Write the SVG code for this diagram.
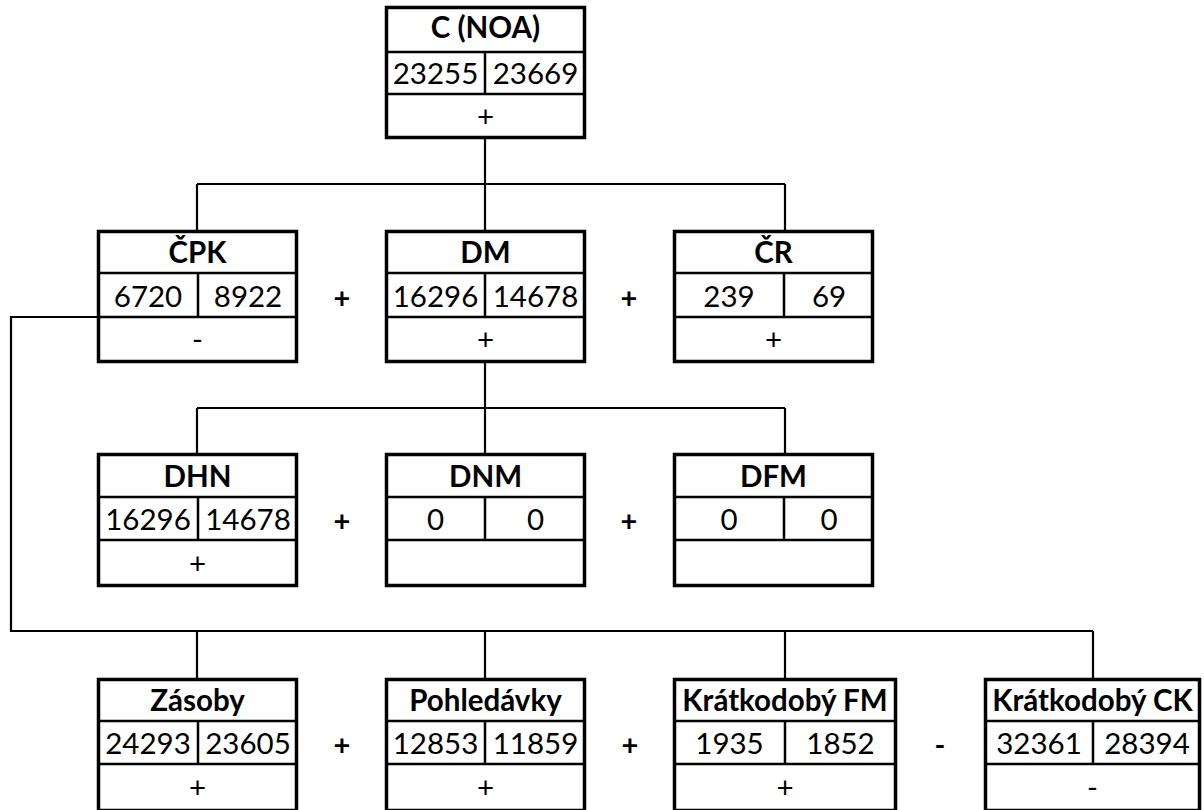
<svg xmlns="http://www.w3.org/2000/svg" width="1204" height="810" viewBox="0 0 1204 810">
  <style>
    .box { fill: #ffffff; stroke: #000000; stroke-width: 3.5; }
    .div { stroke: #000000; stroke-width: 2.5; fill: none; }
    .wire { stroke: #000000; stroke-width: 2.2; fill: none; }
    .hd { font-family: Lato, "Open Sans", sans-serif; font-weight: bold; font-size: 29.5px; text-anchor: middle; fill: #000; }
    .val { font-family: Lato, "Open Sans", sans-serif; font-size: 29.5px; text-anchor: middle; fill: #000; }
    .op { font-family: Lato, "Open Sans", sans-serif; font-weight: bold; font-size: 29px; text-anchor: middle; fill: #000; }
  </style>

  <!-- connectors -->
  <g id="connectors">
    <path class="wire" d="M485 139 V184 M197 184 H785 M197 184 V230 M485 184 V230 M785 184 V230"/>
    <path class="wire" d="M485 363 V408 M197 408 H785 M197 408 V453 M485 408 V453 M785 408 V453"/>
    <path class="wire" d="M97 317 H11 V631 H1093 M197 631 V678 M485 631 V678 M785 631 V678 M1093 631 V678"/>
  </g>

  <!-- level 0 -->
  <g id="node-c-noa">
    <rect class="box" x="386.5" y="7.5" width="198" height="130"/>
    <path class="div" d="M386 52 H585 M386 94 H585 M485 52 V94"/>
    <text class="hd" x="485.5" y="38">C (NOA)</text>
    <text class="val" x="435.5" y="84">23255</text>
    <text class="val" x="535.5" y="84">23669</text>
    <text class="val" x="485.5" y="127">+</text>
  </g>

  <!-- level 1 -->
  <g id="node-cpk">
    <rect class="box" x="98.5" y="231.5" width="198" height="130"/>
    <path class="div" d="M98 273 H297 M98 317 H297 M198 273 V317"/>
    <text class="hd" x="197.5" y="263">ČPK</text>
    <text class="val" x="148" y="307">6720</text>
    <text class="val" x="248" y="307">8922</text>
    <text class="val" x="197.5" y="350">-</text>
  </g>
  <g id="node-dm">
    <rect class="box" x="386.5" y="231.5" width="198" height="130"/>
    <path class="div" d="M386 273 H585 M386 317 H585 M485 273 V317"/>
    <text class="hd" x="485.5" y="263">DM</text>
    <text class="val" x="435.5" y="307">16296</text>
    <text class="val" x="535.5" y="307">14678</text>
    <text class="val" x="485.5" y="350">+</text>
  </g>
  <g id="node-cr">
    <rect class="box" x="674.5" y="231.5" width="198" height="130"/>
    <path class="div" d="M674 273 H873 M674 317 H873 M784 273 V317"/>
    <text class="hd" x="773.5" y="263">ČR</text>
    <text class="val" x="729" y="307">239</text>
    <text class="val" x="829" y="307">69</text>
    <text class="val" x="773.5" y="350">+</text>
  </g>
  <g id="ops-level1">
    <text class="op" x="342" y="308">+</text>
    <text class="op" x="629" y="308">+</text>
  </g>

  <!-- level 2 -->
  <g id="node-dhn">
    <rect class="box" x="98.5" y="454.5" width="198" height="131"/>
    <path class="div" d="M98 497 H297 M98 540 H297 M198 497 V540"/>
    <text class="hd" x="197.5" y="487">DHN</text>
    <text class="val" x="148" y="530">16296</text>
    <text class="val" x="248" y="530">14678</text>
    <text class="val" x="197.5" y="574">+</text>
  </g>
  <g id="node-dnm">
    <rect class="box" x="386.5" y="454.5" width="198" height="131"/>
    <path class="div" d="M386 497 H585 M386 540 H585 M485 497 V540"/>
    <text class="hd" x="485.5" y="487">DNM</text>
    <text class="val" x="435.5" y="530">0</text>
    <text class="val" x="535.5" y="530">0</text>
  </g>
  <g id="node-dfm">
    <rect class="box" x="674.5" y="454.5" width="198" height="131"/>
    <path class="div" d="M674 497 H873 M674 540 H873 M784 497 V540"/>
    <text class="hd" x="773.5" y="487">DFM</text>
    <text class="val" x="729" y="530">0</text>
    <text class="val" x="829" y="530">0</text>
  </g>
  <g id="ops-level2">
    <text class="op" x="342" y="531">+</text>
    <text class="op" x="629" y="531">+</text>
  </g>

  <!-- level 3 -->
  <g id="node-zasoby">
    <rect class="box" x="98.5" y="679.5" width="198" height="131"/>
    <path class="div" d="M98 721 H297 M98 764 H297 M198 721 V764"/>
    <text class="hd" x="197.5" y="711">Zásoby</text>
    <text class="val" x="148" y="754">24293</text>
    <text class="val" x="248" y="754">23605</text>
    <text class="val" x="197.5" y="798">+</text>
  </g>
  <g id="node-pohledavky">
    <rect class="box" x="386.5" y="679.5" width="198" height="131"/>
    <path class="div" d="M386 721 H585 M386 764 H585 M485 721 V764"/>
    <text class="hd" x="485.5" y="711">Pohledávky</text>
    <text class="val" x="435.5" y="754">12853</text>
    <text class="val" x="535.5" y="754">11859</text>
    <text class="val" x="485.5" y="798">+</text>
  </g>
  <g id="node-kratkodoby-fm">
    <rect class="box" x="674.5" y="679.5" width="221" height="131"/>
    <path class="div" d="M674 721 H896 M674 764 H896 M785 721 V764"/>
    <text class="hd" x="785" y="711">Krátkodobý FM</text>
    <text class="val" x="729.5" y="754">1935</text>
    <text class="val" x="840.5" y="754">1852</text>
    <text class="val" x="785" y="798">+</text>
  </g>
  <g id="node-kratkodoby-ck">
    <rect class="box" x="985.5" y="679.5" width="214" height="131"/>
    <path class="div" d="M985 721 H1200 M985 764 H1200 M1093 721 V764"/>
    <text class="hd" x="1092.5" y="711">Krátkodobý CK</text>
    <text class="val" x="1039" y="754">32361</text>
    <text class="val" x="1147" y="754">28394</text>
    <text class="val" x="1092.5" y="798">-</text>
  </g>
  <g id="ops-level3">
    <text class="op" x="342" y="755">+</text>
    <text class="op" x="630" y="755">+</text>
    <text class="op" x="940" y="755">-</text>
  </g>
</svg>
